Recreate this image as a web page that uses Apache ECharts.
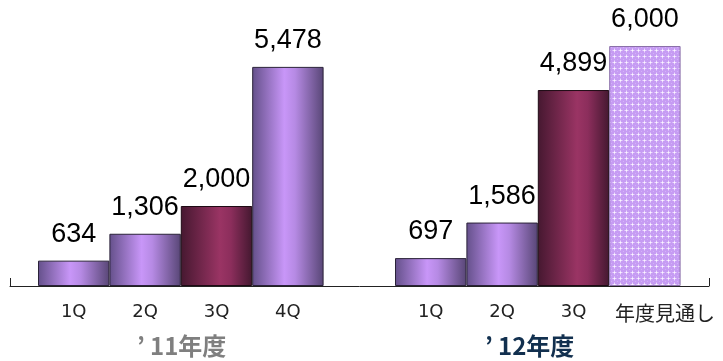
<!DOCTYPE html>
<html>
<head>
<meta charset="utf-8">
<script src="https://cdn.jsdelivr.net/npm/echarts@6/dist/echarts.min.js"></script>
<style>
  html, body { margin: 0; padding: 0; background: #fff; }
  #chart { width: 723px; height: 361px; }
</style>
</head>
<body>
<div id="chart"></div>
<script>
// Quarterly figures for FY'11 and FY'12 (slot 4 is a spacer between the two years)
const categories = ['1Q', '2Q', '3Q', '4Q', '', '1Q', '2Q', '3Q', '年度見通し'];
const values = [634, 1306, 2000, 5478, null, 697, 1586, 4899, 6000];
// Bar style per slot: 'q' regular quarter, 'r' highlighted quarter, 'f' full-year outlook
const kinds = ['q', 'q', 'r', 'q', null, 'q', 'q', 'r', 'f'];
const groupYears = ['11年度', '12年度'];

const purple = {
  type: 'linear', x: 0, y: 0, x2: 1, y2: 0,
  colorStops: [
    { offset: 0, color: '#64508a' },
    { offset: 0.45, color: '#c896f8' },
    { offset: 0.6, color: '#b68ae4' },
    { offset: 1, color: '#584676' }
  ]
};
const maroon = {
  type: 'linear', x: 0, y: 0, x2: 1, y2: 0,
  colorStops: [
    { offset: 0, color: '#461830' },
    { offset: 0.55, color: '#9a3464' },
    { offset: 0.7, color: '#8c2e5c' },
    { offset: 1, color: '#441830' }
  ]
};

// Lattice fill for the outlook bar: light crosses on a lilac ground
function latticePattern() {
  const c = document.createElement('canvas');
  c.width = 6; c.height = 6;
  const g = c.getContext('2d');
  g.fillStyle = '#c69cf3';
  g.fillRect(0, 0, 6, 6);
  g.fillStyle = '#d9bcf9';
  g.fillRect(0, 2, 5, 1);
  g.fillRect(2, 0, 1, 5);
  g.fillStyle = '#ecdcfd';
  g.fillRect(1, 2, 3, 1);
  g.fillRect(2, 1, 1, 3);
  g.fillStyle = '#fbf6ff';
  g.fillRect(2, 2, 1, 1);
  g.fillStyle = '#d3b2f7';
  g.fillRect(5, 5, 1, 1);
  return c;
}
const lattice = { image: latticePattern(), repeat: 'repeat' };

const styleFor = {
  q: { color: purple, borderColor: '#2a2238', borderWidth: 1 },
  r: { color: maroon, borderColor: '#1e0a14', borderWidth: 1 },
  f: { color: lattice, borderColor: '#8a70a8', borderWidth: 1 }
};

const barData = values.map((v, i) =>
  v == null ? '-' : { value: v, itemStyle: styleFor[kinds[i]] }
);

const axisCats = categories.map((c) =>
  c === '年度見通し'
    ? { value: c, textStyle: { fontSize: 20, fontFamily: 'Noto Sans CJK JP', padding: [0, 0, 0, 40] } }
    : c
);

function yearTitle(text, color) {
  return {
    text: '{q|’}{t|' + text + '}',
    fontFamily: 'Noto Sans CJK JP',
    fontWeight: 'bold',
    fontSize: 24,
    fill: color,
    rich: {
      q: { width: 13, fontSize: 24, fontWeight: 'bold', color: color, fontFamily: 'Noto Sans CJK JP' },
      t: { fontSize: 24, fontWeight: 'bold', color: color, fontFamily: 'Noto Sans CJK JP' }
    }
  };
}

const chart = echarts.init(document.getElementById('chart'), null, { renderer: 'canvas' });

chart.setOption({
  animation: false,
  backgroundColor: '#ffffff',
  grid: [
    { left: 38, right: 42.4, top: 46, bottom: 75 },
    { left: 10, right: 14, top: 46, bottom: 75 }
  ],
  xAxis: [
    {
      type: 'category',
      gridIndex: 0,
      data: axisCats,
      boundaryGap: true,
      axisLine: { show: false },
      axisTick: { show: false },
      axisLabel: {
        interval: 0,
        margin: 17,
        fontSize: 18,
        color: '#222',
        fontFamily: 'DejaVu Sans, Noto Sans CJK JP, sans-serif'
      }
    },
    {
      type: 'value',
      gridIndex: 1,
      min: 0, max: 1, interval: 1,
      axisLine: { show: true, lineStyle: { color: '#222', width: 1 } },
      axisTick: { show: true, inside: true, length: 8, lineStyle: { color: '#222' } },
      axisLabel: { show: false },
      splitLine: { show: false }
    }
  ],
  yAxis: [
    { type: 'value', gridIndex: 0, min: 0, max: 6000, show: false, splitLine: { show: false } },
    { type: 'value', gridIndex: 1, min: 0, max: 1, show: false, splitLine: { show: false } }
  ],
  series: [
    {
      type: 'bar',
      xAxisIndex: 0,
      yAxisIndex: 0,
      data: barData,
      barWidth: '100%',
      label: {
        show: true,
        position: 'top',
        distance: 13,
        fontSize: 27,
        color: '#000',
        fontFamily: 'Liberation Sans, Arial, sans-serif',
        formatter: (p) => p.value.toLocaleString('en-US')
      }
    }
  ],
  graphic: [
    { type: 'text', left: 137, top: 334, style: yearTitle(groupYears[0], '#7f7f7f') },
    { type: 'text', left: 485, top: 334, style: yearTitle(groupYears[1], '#12304f') }
  ]
});
</script>
</body>
</html>
